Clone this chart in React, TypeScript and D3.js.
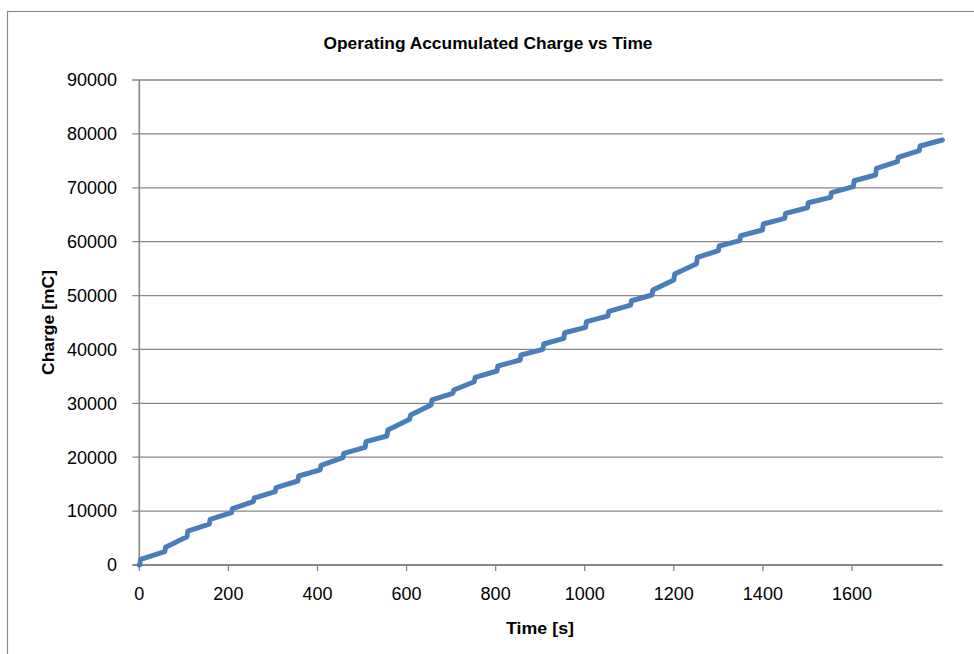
import React from "react";
import * as d3 from "d3";

// Step times [s] and charge values [mC] before / after each step
const stepTimes = [1, 57, 107, 157, 207, 256, 305, 356, 406, 457, 507, 556, 607, 655, 704, 752, 803, 855, 906, 953, 1002, 1052, 1103, 1151, 1200, 1251, 1300, 1348, 1399, 1449, 1500, 1552, 1603, 1653, 1702, 1751];
const lowValues = [0, 2470, 5250, 7600, 9700, 11750, 13600, 15590, 17650, 19910, 21840, 23940, 27030, 29690, 31860, 34010, 36000, 38040, 40020, 42060, 44100, 46200, 48240, 50100, 52890, 55900, 58320, 60180, 62160, 64330, 66300, 68230, 70200, 72370, 74840, 76880];
const highValues = [1060, 3280, 6300, 8470, 10450, 12430, 14350, 16520, 18500, 20720, 22880, 25050, 27830, 30620, 32470, 34830, 36930, 38970, 41010, 43100, 45150, 47080, 49040, 51030, 54000, 57100, 59200, 61100, 63280, 65260, 67230, 69090, 71310, 73600, 75650, 77750];
const startPoint = [0, 0];
const endPoint = [1803, 78870];

const xTicks = [0, 200, 400, 600, 800, 1000, 1200, 1400, 1600];
const yTicks = [0, 10000, 20000, 30000, 40000, 50000, 60000, 70000, 80000, 90000];

const title = "Operating Accumulated Charge vs Time";
const xTitle = "Time [s]";
const yTitle = "Charge [mC]";

export default function App() {
  const W = 974, H = 654;
  const left = 139.3, right = 942.7, top = 80, bottom = 565;
  const x = d3.scaleLinear().domain([0, 1803.7]).range([left, right]);
  const y = d3.scaleLinear().domain([0, 90000]).range([bottom, top]);

  const pts: [number, number][] = [[startPoint[0], startPoint[1]]];
  stepTimes.forEach((t, i) => {
    pts.push([t, lowValues[i]]);
    pts.push([t + 2, highValues[i]]);
  });
  pts.push([endPoint[0], endPoint[1]]);

  const line = d3.line<[number, number]>().x(d => x(d[0])).y(d => y(d[1]));
  const font = "'Liberation Sans', Arial, sans-serif";
  const grid = "#878787";

  return (
    <svg width={W} height={H} style={{ position: "absolute", left: 0, top: 0, background: "#fff" }} fontFamily={font}>
      <rect x={0} y={0} width={W} height={H} fill="#fff" />
      <rect x={7.5} y={11.5} width={1000} height={700} fill="none" stroke="#8c8c8c" strokeWidth={1.2} />
      <text x={488} y={49} textAnchor="middle" fontSize={16.5} fontWeight="bold" textLength={329} lengthAdjust="spacingAndGlyphs" fill="#000">{title}</text>
      {yTicks.map(v => (
        <g key={"y" + v}>
          <line x1={left - 7} x2={right} y1={y(v)} y2={y(v)} stroke={grid} strokeWidth={v === 0 ? 1.8 : 1.3} />
          <text x={117} y={y(v)} dy="0.35em" textAnchor="end" fontSize={18} fill="#000">{v}</text>
        </g>
      ))}
      <line x1={left} x2={left} y1={top} y2={bottom} stroke={grid} strokeWidth={1.6} />
      {xTicks.map(v => (
        <g key={"x" + v}>
          <line x1={x(v)} x2={x(v)} y1={bottom} y2={bottom + 6} stroke={grid} strokeWidth={1.3} />
          <text x={x(v)} y={600} textAnchor="middle" fontSize={18} fill="#000">{v}</text>
        </g>
      ))}
      <path d={line(pts) || ""} fill="none" stroke="#4A7EBB" strokeWidth={5} strokeLinejoin="round" strokeLinecap="round" />
      <text x={540} y={634} textAnchor="middle" fontSize={17} fontWeight="bold" textLength={68} lengthAdjust="spacingAndGlyphs" fill="#000">{xTitle}</text>
      <text transform={`translate(54, 322.5) rotate(-90)`} textAnchor="middle" fontSize={17} fontWeight="bold" textLength={105} lengthAdjust="spacingAndGlyphs" fill="#000">{yTitle}</text>
    </svg>
  );
}
